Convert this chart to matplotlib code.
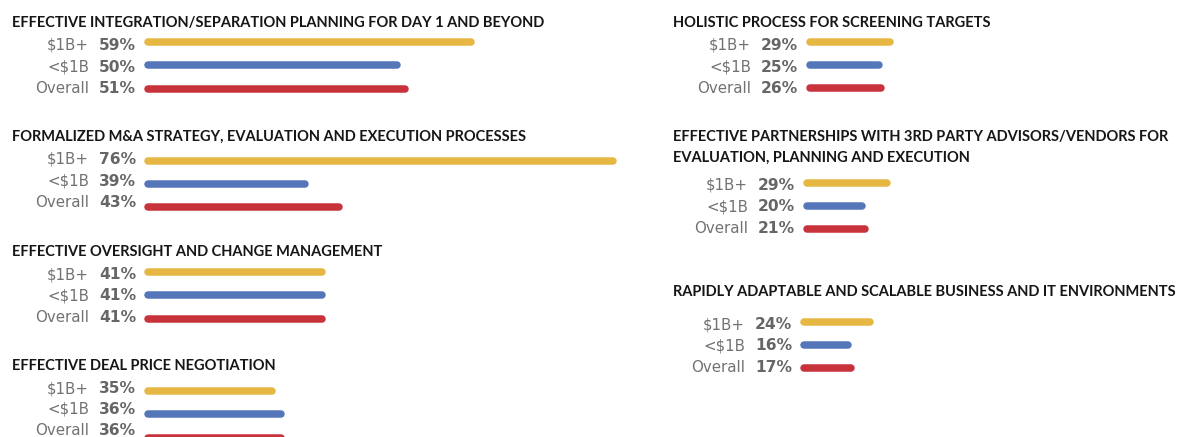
import matplotlib
matplotlib.use("Agg")
import matplotlib.pyplot as plt

plt.rcParams['font.family'] = ['Lato', 'DejaVu Sans']

segments = ["$1B+", "<$1B", "Overall"]
colors = ["#E7B744", "#5577BA", "#C8323B"]

left_titles = [
    ["EFFECTIVE INTEGRATION/SEPARATION PLANNING FOR DAY 1 AND BEYOND"],
    ["FORMALIZED M&A STRATEGY, EVALUATION AND EXECUTION PROCESSES"],
    ["EFFECTIVE OVERSIGHT AND CHANGE MANAGEMENT"],
    ["EFFECTIVE DEAL PRICE NEGOTIATION"],
]
left_values = [[59, 50, 51], [76, 39, 43], [41, 41, 41], [35, 36, 36]]

right_titles = [
    ["HOLISTIC PROCESS FOR SCREENING TARGETS"],
    ["EFFECTIVE PARTNERSHIPS WITH 3RD PARTY ADVISORS/VENDORS FOR",
     "EVALUATION, PLANNING AND EXECUTION"],
    ["RAPIDLY ADAPTABLE AND SCALABLE BUSINESS AND IT ENVIRONMENTS"],
]
right_values = [[29, 25, 26], [29, 20, 21], [24, 16, 17]]

W, H = 1184, 437
fig = plt.figure(figsize=(W / 100, H / 100), dpi=100)

LW_PX = 7.5
LW = LW_PX * 72 / 100


def fx(px):
    return px / W


def fy(py):
    return 1 - py / H


def add_group(title, tx, ty, bar_left, y0, dy, t0, dt, vals, base, ppp):
    # everything below is in pixels from the top-left corner
    for k, line in enumerate(title):
        fig.text(fx(tx), fy(ty + k * 21), line, fontsize=10.55,
                 fontweight='bold', color='#161616', ha='left', va='baseline')
    x0 = bar_left + LW_PX / 2
    ax = fig.add_axes([fx(x0), fy(y0 + 2.5 * dy), 600 / W, 3 * dy / H])
    ax.set_xlim(base, base + 600 / ppp)
    ax.set_ylim(2.5, -0.5)
    ax.axis('off')
    for i, (seg, v, c) in enumerate(zip(segments, vals, colors)):
        ax.plot([base, v], [i, i], color=c, lw=LW, solid_capstyle='round',
                clip_on=False)
        fig.text(fx(bar_left - 8), fy(t0 + i * dt), f"{v}%", ha='right',
                 va='baseline', fontsize=11.2, fontweight='bold',
                 color='#666666', family='DejaVu Sans')
        fig.text(fx(bar_left - 55), fy(t0 + i * dt), seg, ha='right',
                 va='baseline', fontsize=10.8, color='#727272',
                 family='DejaVu Sans')


left_ty = [27, 141, 256, 370]
left_y0 = [42, 160.5, 272, 391]
left_t0 = [50, 164, 279, 393]
left_dt = [21.5, 21.5, 21.5, 21]
for t, ty, y0, t0, d, v in zip(left_titles, left_ty, left_y0, left_t0,
                               left_dt, left_values):
    add_group(t, 12, ty, 144, y0, 23.3, t0, d, v, 20, 8.3)

right_ty = [27, 141, 296]
right_y0 = [42, 183, 322]
right_t0 = [50, 190, 329]
right_bx = [806, 803, 800]
for t, ty, y0, t0, bx, v in zip(right_titles, right_ty, right_y0, right_t0,
                                right_bx, right_values):
    add_group(t, 673, ty, bx, y0, 22.8, t0, 21.5, v, 0, 2.75)

fig.savefig("out.png", dpi=100, facecolor='white')
